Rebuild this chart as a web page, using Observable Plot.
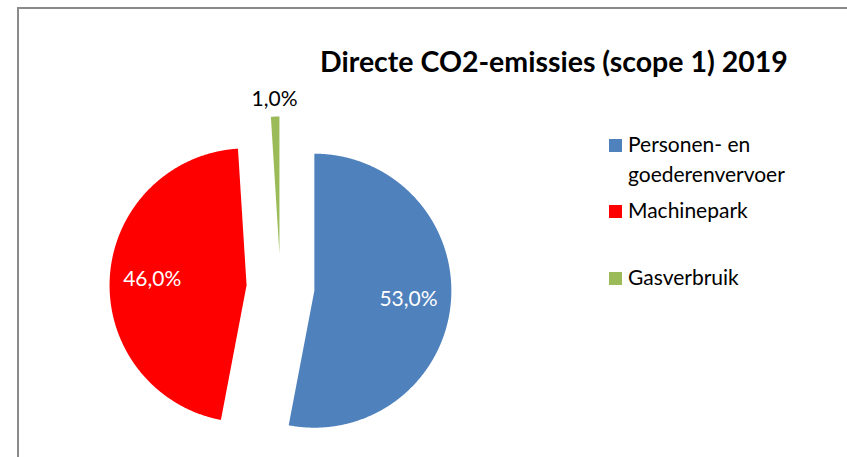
<!DOCTYPE html>
<html>
<head>
<meta charset="utf-8">
<script src="https://cdn.jsdelivr.net/npm/d3@7"></script>
<script src="https://cdn.jsdelivr.net/npm/@observablehq/plot@0.6"></script>
<style>
  html, body { margin: 0; padding: 0; background: #fff; }
  #wrap { position: relative; width: 847px; height: 457px; overflow: hidden; font-family: Lato, "Open Sans", sans-serif; }
  #border { position: absolute; left: 17px; top: 7px; width: 900px; height: 600px; border-left: 2px solid #8a8a8a; border-top: 2px solid #8a8a8a; box-sizing: border-box; }
  #title { position: absolute; left: 320px; top: 47px; font-size: 28.5px; font-weight: 700; line-height: 1; white-space: nowrap; color: #000; }
  .leg { position: absolute; left: 609px; font-size: 21px; line-height: 30px; color: #000; }
  .leg .sw { position: absolute; left: 0; width: 13px; height: 13px; }
  .leg .tx { position: absolute; left: 19px; white-space: nowrap; }
  #chart { position: absolute; left: 0; top: 0; }
</style>
</head>
<body>
<div id="wrap">
  <div id="chart"></div>
  <div id="border"></div>
  <div id="title"></div>
  <div id="legend"></div>
</div>
<script>
const title = "Directe CO2-emissies (scope 1) 2019";
const categories = ["Personen- en goederenvervoer", "Machinepark", "Gasverbruik"];
const legendLines = [["Personen- en", "goederenvervoer"], ["Machinepark"], ["Gasverbruik"]];
const values = [53.0, 46.0, 1.0];
const labels = ["53,0%", "46,0%", "1,0%"];
const colors = ["#4F81BD", "#FF0000", "#9BBB59"];

// layout
const W = 847, H = 457;
const cx = 280, cy = 287, R = 137;
const explode = 34 / R;

const pie = d3.pie().sort(null).value(d => d)(values);

const slicePts = [];
const labelPts = [];
pie.forEach((p, i) => {
  const mid = (p.startAngle + p.endAngle) / 2;
  const ox = explode * Math.sin(mid), oy = explode * Math.cos(mid);
  const pts = [{x: ox, y: oy, k: i}];
  const n = Math.max(4, Math.ceil((p.endAngle - p.startAngle) / 0.005));
  for (let j = 0; j <= n; j++) {
    const a = p.startAngle + (p.endAngle - p.startAngle) * j / n;
    pts.push({x: ox + Math.sin(a), y: oy + Math.cos(a), k: i});
  }
  pts.push({x: ox, y: oy, k: i});
  slicePts.push(pts);
  const outside = values[i] < 5;
  const f = outside ? 1.13 : 0.69;
  labelPts.push({x: ox + f * Math.sin(mid), y: oy + f * Math.cos(mid), text: labels[i], outside});
});

const marks = slicePts.map((pts, i) =>
  Plot.line(pts, {x: "x", y: "y", fill: colors[i], stroke: "none", curve: "linear"})
);
marks.push(Plot.text(labelPts.filter(d => !d.outside), {x: "x", y: "y", text: "text", fill: "white", fontSize: 21, fontFamily: "Lato", lineAnchor: "middle", textAnchor: "middle"}));
marks.push(Plot.text(labelPts.filter(d => d.outside), {x: "x", y: "y", text: "text", fill: "black", fontSize: 21, fontFamily: "Lato", lineAnchor: "middle", textAnchor: "middle"}));

const chart = Plot.plot({
  width: W, height: H,
  margin: 0,
  x: {domain: [-cx / R, (W - cx) / R], range: [0, W], axis: null},
  y: {domain: [-(H - cy) / R, cy / R], range: [H, 0], axis: null},
  style: {background: "white", overflow: "visible"},
  marks
});
document.getElementById("chart").appendChild(chart);

document.getElementById("title").textContent = title;

const legendTops = [135, 201, 268];
const legend = document.getElementById("legend");
categories.forEach((c, i) => {
  const item = document.createElement("div");
  item.className = "leg";
  item.style.top = legendTops[i] + "px";
  const sw = document.createElement("div");
  sw.className = "sw";
  sw.style.background = colors[i];
  sw.style.top = "4px";
  const tx = document.createElement("div");
  tx.className = "tx";
  tx.style.top = "-6px";
  tx.innerHTML = legendLines[i].join("<br>");
  item.appendChild(sw);
  item.appendChild(tx);
  legend.appendChild(item);
});
</script>
</body>
</html>
